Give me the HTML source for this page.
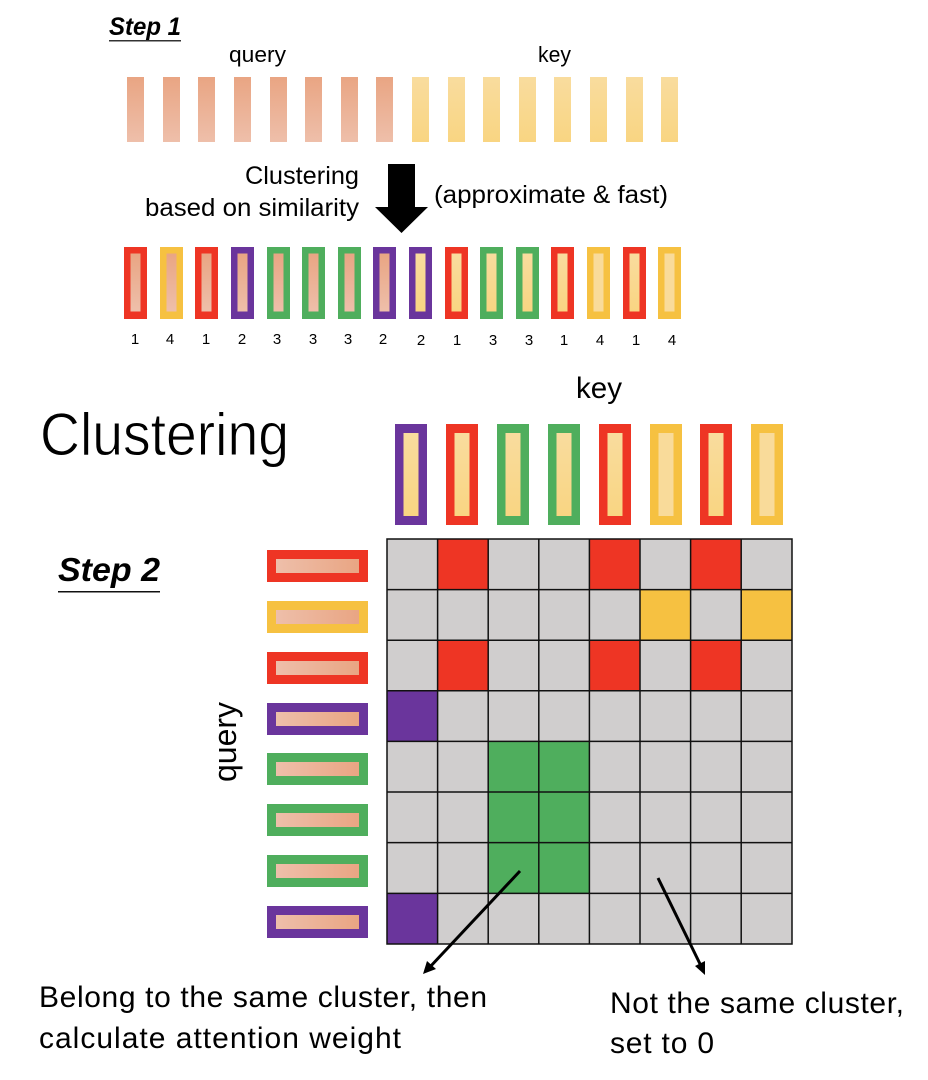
<!DOCTYPE html>
<html><head><meta charset="utf-8"><style>html,body{margin:0;padding:0;background:#fff}svg{display:block}text{font-family:"Liberation Sans",sans-serif;fill:#000}</style></head><body>
<svg xmlns="http://www.w3.org/2000/svg" width="928" height="1080" viewBox="0 0 928 1080">
<defs>
<linearGradient id="qv" x1="0" y1="0" x2="0" y2="1"><stop offset="0" stop-color="#E9A583"/><stop offset="1" stop-color="#EEBFAA"/></linearGradient>
<linearGradient id="kv" x1="0" y1="0" x2="0" y2="1"><stop offset="0" stop-color="#F9DC9E"/><stop offset="1" stop-color="#F9D582"/></linearGradient>
<linearGradient id="qh" x1="0" y1="0" x2="1" y2="0"><stop offset="0" stop-color="#EEBFAA"/><stop offset="1" stop-color="#E9A583"/></linearGradient>
</defs>
<text x="109" y="35" font-size="25" font-weight="bold" font-style="italic" textLength="72" lengthAdjust="spacingAndGlyphs">Step 1</text>
<rect x="109" y="40" width="72" height="1.5" fill="#333"/>
<text x="229" y="62" font-size="22" textLength="57" lengthAdjust="spacingAndGlyphs">query</text>
<text x="538" y="62" font-size="22" textLength="33" lengthAdjust="spacingAndGlyphs">key</text>
<g fill="url(#qv)"><rect x="127" y="77" width="17" height="65"/><rect x="163" y="77" width="17" height="65"/><rect x="198" y="77" width="17" height="65"/><rect x="234" y="77" width="17" height="65"/><rect x="270" y="77" width="17" height="65"/><rect x="305" y="77" width="17" height="65"/><rect x="341" y="77" width="17" height="65"/><rect x="376" y="77" width="17" height="65"/></g>
<g fill="url(#kv)"><rect x="412" y="77" width="17" height="65"/><rect x="448" y="77" width="17" height="65"/><rect x="483" y="77" width="17" height="65"/><rect x="519" y="77" width="17" height="65"/><rect x="554" y="77" width="17" height="65"/><rect x="590" y="77" width="17" height="65"/><rect x="626" y="77" width="17" height="65"/><rect x="661" y="77" width="17" height="65"/></g>
<text x="245" y="184" font-size="25" textLength="114" lengthAdjust="spacingAndGlyphs">Clustering</text>
<text x="145" y="216" font-size="25" textLength="214" lengthAdjust="spacingAndGlyphs">based on similarity</text>
<text x="434" y="203" font-size="25" textLength="234" lengthAdjust="spacingAndGlyphs">(approximate &amp; fast)</text>
<polygon points="388,164 415,164 415,207 428,207 401.500,233 375,207 388,207" fill="#000"/>
<g>
<rect x="124" y="247" width="23" height="72" fill="#EE3524"/><rect x="130.500" y="253.500" width="10" height="58" fill="url(#qv)"/>
<rect x="160" y="247" width="23" height="72" fill="#F6C141"/><rect x="166.500" y="253.500" width="10" height="58" fill="url(#qv)"/>
<rect x="195" y="247" width="23" height="72" fill="#EE3524"/><rect x="201.500" y="253.500" width="10" height="58" fill="url(#qv)"/>
<rect x="231" y="247" width="23" height="72" fill="#6A359C"/><rect x="237.500" y="253.500" width="10" height="58" fill="url(#qv)"/>
<rect x="267" y="247" width="23" height="72" fill="#4FAE5D"/><rect x="273.500" y="253.500" width="10" height="58" fill="url(#qv)"/>
<rect x="302" y="247" width="23" height="72" fill="#4FAE5D"/><rect x="308.500" y="253.500" width="10" height="58" fill="url(#qv)"/>
<rect x="338" y="247" width="23" height="72" fill="#4FAE5D"/><rect x="344.500" y="253.500" width="10" height="58" fill="url(#qv)"/>
<rect x="373" y="247" width="23" height="72" fill="#6A359C"/><rect x="379.500" y="253.500" width="10" height="58" fill="url(#qv)"/>
<rect x="409" y="247" width="23" height="72" fill="#6A359C"/><rect x="415.500" y="253.500" width="10" height="58" fill="url(#kv)"/>
<rect x="445" y="247" width="23" height="72" fill="#EE3524"/><rect x="451.500" y="253.500" width="10" height="58" fill="url(#kv)"/>
<rect x="480" y="247" width="23" height="72" fill="#4FAE5D"/><rect x="486.500" y="253.500" width="10" height="58" fill="url(#kv)"/>
<rect x="516" y="247" width="23" height="72" fill="#4FAE5D"/><rect x="522.500" y="253.500" width="10" height="58" fill="url(#kv)"/>
<rect x="551" y="247" width="23" height="72" fill="#EE3524"/><rect x="557.500" y="253.500" width="10" height="58" fill="url(#kv)"/>
<rect x="587" y="247" width="23" height="72" fill="#F6C141"/><rect x="593.500" y="253.500" width="10" height="58" fill="#F9DB9A"/>
<rect x="623" y="247" width="23" height="72" fill="#EE3524"/><rect x="629.500" y="253.500" width="10" height="58" fill="url(#kv)"/>
<rect x="658" y="247" width="23" height="72" fill="#F6C141"/><rect x="664.500" y="253.500" width="10" height="58" fill="#F9DB9A"/>
</g>
<g font-size="15" text-anchor="middle">
<text x="135" y="344">1</text><text x="170" y="344">4</text><text x="206" y="344">1</text><text x="242" y="344">2</text><text x="277" y="344">3</text><text x="313" y="344">3</text><text x="348" y="344">3</text><text x="383" y="344">2</text><text x="421" y="345">2</text><text x="457" y="345">1</text><text x="493" y="345">3</text><text x="529" y="345">3</text><text x="564" y="345">1</text><text x="600" y="345">4</text><text x="636" y="345">1</text><text x="672" y="345">4</text>
</g>
<text x="576" y="398" font-size="30" textLength="46" lengthAdjust="spacingAndGlyphs">key</text>
<text x="40" y="455" font-size="60" textLength="249" lengthAdjust="spacingAndGlyphs" stroke="#fff" stroke-width="0.9">Clustering</text>
<text x="58" y="581" font-size="33" font-weight="bold" font-style="italic" textLength="102" lengthAdjust="spacingAndGlyphs">Step 2</text>
<rect x="58" y="591" width="102" height="1.500" fill="#111"/>
<text transform="translate(236,782) rotate(-90)" font-size="32" textLength="80" lengthAdjust="spacingAndGlyphs">query</text>
<g>
<rect x="395" y="424" width="32" height="101" fill="#6A359C"/><rect x="403.500" y="433" width="15" height="83" fill="url(#kv)"/>
<rect x="446" y="424" width="32" height="101" fill="#EE3524"/><rect x="454.500" y="433" width="15" height="83" fill="url(#kv)"/>
<rect x="497" y="424" width="32" height="101" fill="#4FAE5D"/><rect x="505.500" y="433" width="15" height="83" fill="url(#kv)"/>
<rect x="548" y="424" width="32" height="101" fill="#4FAE5D"/><rect x="556.500" y="433" width="15" height="83" fill="url(#kv)"/>
<rect x="599" y="424" width="32" height="101" fill="#EE3524"/><rect x="607.500" y="433" width="15" height="83" fill="url(#kv)"/>
<rect x="650" y="424" width="32" height="101" fill="#F6C141"/><rect x="658.500" y="433" width="15" height="83" fill="#F9DB9A"/>
<rect x="700" y="424" width="32" height="101" fill="#EE3524"/><rect x="708.500" y="433" width="15" height="83" fill="url(#kv)"/>
<rect x="751" y="424" width="32" height="101" fill="#F6C141"/><rect x="759.500" y="433" width="15" height="83" fill="#F9DB9A"/>
</g>
<g>
<rect x="267" y="550" width="101" height="32" fill="#EE3524"/><rect x="276" y="559" width="83" height="14" fill="url(#qh)"/>
<rect x="267" y="601" width="101" height="32" fill="#F6C141"/><rect x="276" y="610" width="83" height="14" fill="url(#qh)"/>
<rect x="267" y="652" width="101" height="32" fill="#EE3524"/><rect x="276" y="661" width="83" height="14" fill="url(#qh)"/>
<rect x="267" y="703" width="101" height="32" fill="#6A359C"/><rect x="276" y="712" width="83" height="14" fill="url(#qh)"/>
<rect x="267" y="753" width="101" height="32" fill="#4FAE5D"/><rect x="276" y="762" width="83" height="14" fill="url(#qh)"/>
<rect x="267" y="804" width="101" height="32" fill="#4FAE5D"/><rect x="276" y="813" width="83" height="14" fill="url(#qh)"/>
<rect x="267" y="855" width="101" height="32" fill="#4FAE5D"/><rect x="276" y="864" width="83" height="14" fill="url(#qh)"/>
<rect x="267" y="906" width="101" height="32" fill="#6A359C"/><rect x="276" y="915" width="83" height="14" fill="url(#qh)"/>
</g>
<rect x="387" y="539" width="405" height="405" fill="#D0CECE"/>
<g fill="#EE3524"><rect x="437.600" y="539" width="50.600" height="50.600"/><rect x="589.400" y="539" width="50.600" height="50.600"/><rect x="690.600" y="539" width="50.600" height="50.600"/><rect x="437.600" y="640.200" width="50.600" height="50.600"/><rect x="589.400" y="640.200" width="50.600" height="50.600"/><rect x="690.600" y="640.200" width="50.600" height="50.600"/></g>
<g fill="#F6C141"><rect x="640" y="589.600" width="50.600" height="50.600"/><rect x="741.200" y="589.600" width="50.600" height="50.600"/></g>
<g fill="#6A359C"><rect x="387" y="690.800" width="50.600" height="50.600"/><rect x="387" y="893.400" width="50.600" height="50.600"/></g>
<rect x="488.200" y="741.400" width="101.200" height="152" fill="#4FAE5D"/>
<g stroke="#111" stroke-width="1.500" fill="none">
<rect x="387" y="539" width="405" height="405"/>
<path d="M437.600 539V944M488.200 539V944M538.800 539V944M589.400 539V944M640 539V944M690.600 539V944M741.200 539V944"/>
<path d="M387 589.600H792M387 640.200H792M387 690.800H792M387 741.400H792M387 792H792M387 842.600H792M387 893.400H792"/>
</g>
<line x1="520" y1="871" x2="429" y2="968" stroke="#000" stroke-width="3"/>
<polygon points="423,974 427,961 436,969" fill="#000"/>
<line x1="658" y1="878" x2="702" y2="968" stroke="#000" stroke-width="3"/>
<polygon points="705,975 695,966 705,961" fill="#000"/>
<text x="39" y="1007" font-size="30" textLength="448" lengthAdjust="spacing">Belong to the same cluster, then</text>
<text x="39" y="1048" font-size="30" textLength="362" lengthAdjust="spacing">calculate attention weight</text>
<text x="610" y="1013" font-size="30" textLength="294" lengthAdjust="spacing">Not the same cluster,</text>
<text x="610" y="1053" font-size="30" textLength="104" lengthAdjust="spacing">set to 0</text>
</svg>
</body></html>
